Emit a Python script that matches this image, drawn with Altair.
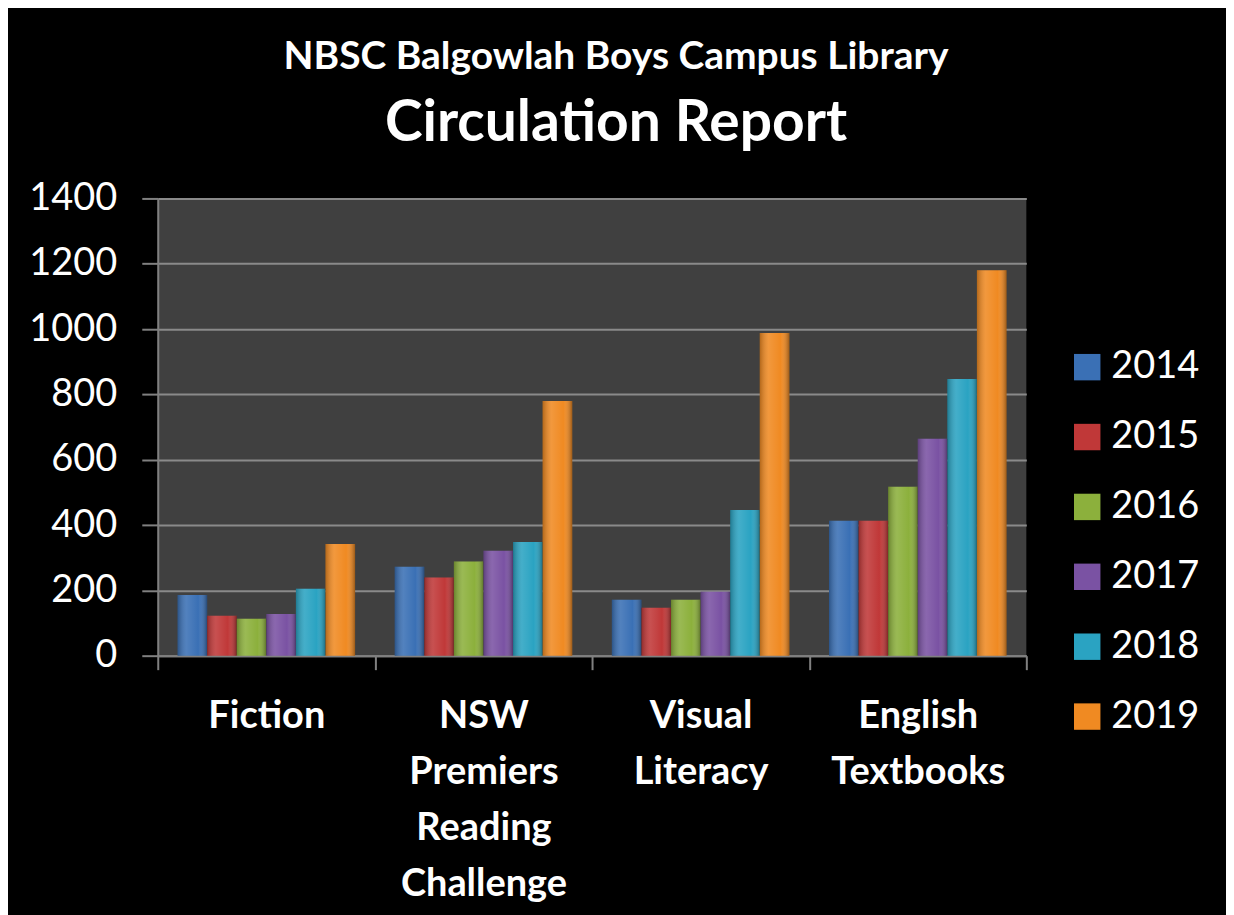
import altair as alt
import pandas as pd

categories = ["Fiction", "NSW Premiers Reading Challenge", "Visual Literacy", "English Textbooks"]
years = ["2014", "2015", "2016", "2017", "2018", "2019"]
values = {
    "2014": [186, 272, 171, 413],
    "2015": [122, 239, 147, 413],
    "2016": [113, 288, 171, 517],
    "2017": [128, 321, 196, 664],
    "2018": [205, 348, 446, 847],
    "2019": [342, 780, 988, 1180],
}
colors = ["#3a70b5", "#c03838", "#8cb03c", "#7a52a3", "#2aa3c2", "#f08a22"]

rows = []
for y in years:
    for c, v in zip(categories, values[y]):
        rows.append({"Category": c, "Year": y, "Count": v})
df = pd.DataFrame(rows)

FONT = "Lato"

x = alt.X("Category:N", sort=categories, title=None,
          scale=alt.Scale(paddingInner=0, paddingOuter=0),
          axis=alt.Axis(labelAngle=0, labelExpr="split(datum.label, ' ')",
                        labelFontSize=38, labelFontWeight="bold", labelColor="white", labelFont=FONT,
                        labelLineHeight=56, labelPadding=28, labelBaseline="top",
                        tickBand="extent", tickSize=14, tickColor="#808080", tickWidth=2,
                        domainColor="#808080", domainWidth=2, grid=False))
y = alt.Y("Count:Q", title=None,
          scale=alt.Scale(domain=[0, 1400], nice=False),
          axis=alt.Axis(values=[0, 200, 400, 600, 800, 1000, 1200, 1400], format="d",
                        labelFontSize=38, labelColor="white", labelFont=FONT,
                        labelPadding=25, tickSize=16, tickColor="#808080", tickWidth=2,
                        domainColor="#808080", domainWidth=2,
                        gridColor="#8a8a8a", gridWidth=2))
xo = alt.XOffset("Year:N", sort=years,
                 scale=alt.Scale(paddingInner=0, paddingOuter=0.67))

base = alt.Chart(df)
bars = base.mark_bar().encode(
    x=x, y=y, xOffset=xo,
    color=alt.Color("Year:N", sort=years,
                    scale=alt.Scale(domain=years, range=colors),
                    legend=alt.Legend(title=None, orient="none", legendX=912, legendY=150,
                                      symbolType="square", symbolSize=700, symbolStrokeWidth=0,
                                      labelFontSize=38, labelColor="white", labelFont=FONT,
                                      rowPadding=32, labelOffset=5)),
)
shade = base.mark_bar(
    fill={"gradient": "linear", "x1": 0, "y1": 0, "x2": 1, "y2": 0,
          "stops": [{"offset": 0, "color": "rgba(0,0,0,0.25)"},
                    {"offset": 0.3, "color": "rgba(255,255,255,0.12)"},
                    {"offset": 0.7, "color": "rgba(255,255,255,0.0)"},
                    {"offset": 1, "color": "rgba(0,0,0,0.35)"}]}
).encode(x=x, y=y, xOffset=xo)

chart = alt.layer(bars, shade).properties(
    width=870, height=458,
    autosize=alt.AutoSizeParams(type="none"),
    padding={"left": 150, "top": 190, "right": 200, "bottom": 259},
    background="black",
    title=alt.TitleParams(text="NBSC Balgowlah Boys Campus Library",
                          subtitle="Circulation Report",
                          font=FONT, fontSize=39, fontWeight="bold", color="white",
                          subtitleFont=FONT, subtitleFontSize=57, subtitleFontWeight="bold",
                          subtitleColor="white", subtitlePadding=19,
                          anchor="middle", dx=24, offset=28),
).configure_view(fill="#404040", stroke=None)

chart.save("out.html", embed_options={"renderer": "svg", "actions": False})
